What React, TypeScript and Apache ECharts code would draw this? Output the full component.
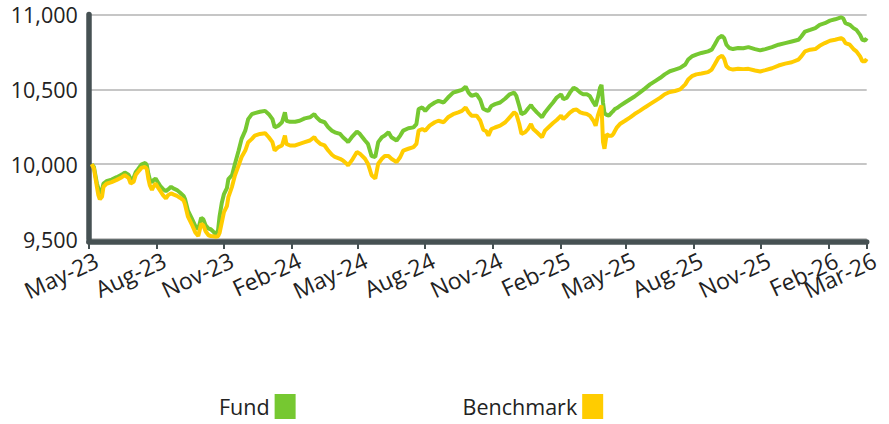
import React, { useEffect, useRef } from "react";
import * as echarts from "echarts";

// Days since 1 May 2023 for each observation
const days = [
  4, 7, 11, 13, 15, 18, 20, 24, 31, 38, 45, 49, 54, 57, 61, 64, 67, 72, 77, 79,
  81, 83, 86, 88, 91, 95, 98, 101, 105, 108, 112, 115, 120, 124, 129, 131, 135, 140, 145, 149,
  153, 156, 159, 163, 166, 169, 173, 176, 178, 181, 184, 188, 190, 195, 199, 204, 208, 213, 217, 222,
  226, 233, 240, 245, 250, 253, 258, 263, 267, 269, 274, 281, 287, 294, 301, 307, 310, 315, 321, 326,
  331, 335, 342, 346, 351, 353, 358, 365, 369, 376, 380, 385, 390, 394, 399, 403, 408, 412, 419, 424,
  428, 435, 442, 446, 449, 454, 458, 464, 471, 476, 483, 489, 496, 503, 508, 513, 517, 521, 528, 533,
  537, 541, 544, 548, 553, 560, 567, 573, 579, 582, 586, 589, 594, 598, 602, 605, 610, 617, 621, 628,
  632, 637, 643, 646, 651, 655, 660, 664, 669, 673, 678, 682, 687, 690, 693, 696, 698, 700, 702, 705,
  708, 712, 714, 716, 719, 723, 730, 737, 743, 750, 757, 764, 771, 778, 784, 791, 798, 805, 812, 816,
  821, 827, 834, 843, 848, 852, 857, 862, 865, 868, 872, 877, 884, 891, 898, 907, 914, 921, 930, 939,
  948, 957, 966, 970, 975, 982, 989, 995, 1002, 1009, 1016, 1024, 1027, 1030, 1036, 1041, 1045, 1050, 1053, 1057,
  1059,
];

const fund = [
  10000, 9981, 9871, 9838, 9805, 9827, 9871, 9886, 9897, 9913, 9930, 9944, 9930, 9899, 9909, 9948, 9966, 9999, 10008, 9992,
  9937, 9899, 9877, 9893, 9904, 9871, 9849, 9834, 9820, 9831, 9849, 9838, 9827, 9811, 9788, 9767, 9689, 9640, 9587, 9565,
  9642, 9631, 9591, 9569, 9565, 9552, 9530, 9560, 9650, 9740, 9800, 9840, 9900, 9926, 10003, 10091, 10169, 10224, 10301, 10334,
  10341, 10350, 10356, 10334, 10301, 10246, 10257, 10280, 10346, 10290, 10283, 10283, 10290, 10306, 10313, 10334, 10313, 10290, 10280, 10246,
  10224, 10213, 10202, 10180, 10158, 10147, 10180, 10217, 10202, 10158, 10136, 10054, 10048, 10147, 10180, 10191, 10213, 10180, 10158, 10191,
  10224, 10240, 10246, 10268, 10368, 10379, 10356, 10389, 10412, 10423, 10412, 10445, 10478, 10489, 10496, 10518, 10478, 10456, 10467, 10430,
  10370, 10360, 10356, 10389, 10401, 10412, 10439, 10467, 10478, 10456, 10389, 10334, 10346, 10372, 10394, 10372, 10346, 10313, 10346, 10389,
  10412, 10445, 10467, 10434, 10445, 10478, 10511, 10500, 10478, 10467, 10467, 10456, 10412, 10389, 10445, 10511, 10530, 10412, 10340, 10330,
  10324, 10346, 10355, 10368, 10375, 10389, 10412, 10434, 10452, 10478, 10505, 10533, 10555, 10577, 10600, 10621, 10632, 10643, 10666, 10699,
  10720, 10732, 10743, 10754, 10765, 10798, 10842, 10858, 10842, 10798, 10776, 10769, 10776, 10775, 10782, 10769, 10760, 10769, 10782, 10798,
  10809, 10820, 10831, 10853, 10886, 10897, 10909, 10931, 10942, 10959, 10968, 10981, 10975, 10942, 10931, 10909, 10897, 10864, 10831, 10826,
  10842,
];

const benchmark = [
  10000, 9970, 9849, 9793, 9765, 9783, 9849, 9869, 9880, 9895, 9913, 9926, 9909, 9871, 9882, 9930, 9948, 9977, 9981, 9966,
  9904, 9860, 9827, 9849, 9871, 9838, 9816, 9793, 9771, 9793, 9805, 9798, 9788, 9776, 9758, 9731, 9649, 9600, 9543, 9520,
  9602, 9591, 9552, 9525, 9520, 9518, 9515, 9518, 9540, 9610, 9680, 9720, 9780, 9850, 9926, 9992, 10048, 10091, 10147, 10169,
  10191, 10202, 10207, 10180, 10147, 10091, 10114, 10125, 10191, 10136, 10125, 10125, 10136, 10147, 10158, 10180, 10158, 10136, 10125, 10091,
  10063, 10048, 10036, 10025, 10003, 9992, 10025, 10081, 10070, 10036, 10003, 9926, 9904, 10003, 10036, 10054, 10054, 10036, 10014, 10048,
  10091, 10103, 10114, 10136, 10224, 10235, 10224, 10257, 10280, 10290, 10280, 10313, 10334, 10346, 10356, 10379, 10346, 10324, 10324, 10290,
  10230, 10220, 10191, 10235, 10245, 10257, 10280, 10313, 10346, 10335, 10268, 10202, 10213, 10235, 10268, 10235, 10213, 10180, 10224, 10257,
  10275, 10295, 10324, 10301, 10324, 10345, 10362, 10365, 10346, 10340, 10335, 10324, 10290, 10257, 10324, 10370, 10392, 10150, 10103, 10200,
  10190, 10190, 10202, 10220, 10246, 10268, 10290, 10313, 10335, 10356, 10379, 10401, 10423, 10445, 10467, 10482, 10489, 10500, 10533, 10566,
  10588, 10600, 10606, 10615, 10632, 10666, 10710, 10725, 10703, 10655, 10638, 10632, 10638, 10635, 10637, 10626, 10619, 10628, 10641, 10659,
  10672, 10681, 10699, 10720, 10754, 10765, 10769, 10791, 10809, 10825, 10831, 10842, 10835, 10809, 10798, 10769, 10754, 10720, 10688, 10688,
  10703,
];

// x-axis ticks (days since 1 May 2023) and their labels
const tickDays = [0, 92, 184, 276, 366, 458, 550, 642, 731, 823, 915, 1007, 1059];
const tickLabels = [
  "May-23", "Aug-23", "Nov-23", "Feb-24", "May-24", "Aug-24", "Nov-24",
  "Feb-25", "May-25", "Aug-25", "Nov-25", "Feb-26", "Mar-26",
];
const yTicks = [9500, 10000, 10500, 11000];

const seriesNames = ["Fund", "Benchmark"];
const GREEN = "#76C831";
const YELLOW = "#FFCC00";
const AXIS = "#465153";
const FONT = "Open Sans";

const G = { left: 88.8, right: 22.3, top: 14.5, bottom: 185 };
const LABEL_SHIFT = 3;

export default function App() {
  const ref = useRef<HTMLDivElement>(null);
  useEffect(() => {
    document.body.style.margin = "0";
    const chart = echarts.init(ref.current!, undefined, { renderer: "svg" });
    const dayMax = tickDays[tickDays.length - 1];
    const labelGrid = { left: G.left + LABEL_SHIFT, right: G.right - LABEL_SHIFT, top: G.top, bottom: G.bottom };
    const labelAxis = (gridIndex: number, values: number[]) => ({
      type: "value",
      gridIndex,
      min: 0,
      max: dayMax,
      offset: 3,
      axisLine: { show: false },
      axisTick: { show: false },
      splitLine: { show: false },
      axisLabel: {
        customValues: values,
        showMinLabel: true,
        showMaxLabel: true,
        rotate: 25,
        margin: 6,
        fontSize: 23,
        lineHeight: 23,
        align: "right",
        verticalAlign: "top",
        color: "#222",
        fontFamily: FONT,
        formatter: (v: number) => tickLabels[tickDays.indexOf(v)] ?? "",
      },
    });
    const hiddenY = (gridIndex: number) => ({
      type: "value",
      gridIndex,
      min: 0,
      max: 1,
      show: false,
    });
    chart.setOption({
      animation: false,
      textStyle: { fontFamily: FONT },
      grid: [G, labelGrid, labelGrid],
      legend: {
        data: seriesNames,
        left: 219,
        top: 394,
        padding: 0,
        align: "right",
        icon: "rect",
        itemWidth: 21,
        itemHeight: 25,
        itemGap: 167,
        textStyle: { fontSize: 21.5, color: "#222", fontFamily: FONT },
      },
      xAxis: [
        {
          type: "value",
          gridIndex: 0,
          min: 0,
          max: dayMax,
          offset: 3,
          axisLine: { show: true, lineStyle: { color: AXIS, width: 5.5 } },
          axisTick: {
            show: true,
            customValues: tickDays,
            length: 7,
            lineStyle: { color: AXIS, width: 2 },
          },
          axisLabel: { show: false },
          splitLine: { show: false },
        },
        labelAxis(1, tickDays.slice(0, tickDays.length - 1)),
        labelAxis(2, tickDays.slice(tickDays.length - 1)),
      ],
      yAxis: [
        {
          type: "value",
          gridIndex: 0,
          min: yTicks[0],
          max: yTicks[yTicks.length - 1],
          interval: 500,
          axisLine: { show: true, lineStyle: { color: AXIS, width: 5.5 } },
          axisTick: { show: false },
          axisLabel: {
            margin: 11,
            fontSize: 21.5,
            color: "#222",
            fontFamily: FONT,
            formatter: (v: number) => v.toLocaleString("en-US"),
          },
          splitLine: { show: true, lineStyle: { color: "#c6c6c6", width: 2 } },
        },
        hiddenY(1),
        hiddenY(2),
      ],
      series: [
        {
          name: seriesNames[0],
          type: "line",
          xAxisIndex: 0,
          yAxisIndex: 0,
          data: days.map((d, i) => [d, fund[i]]),
          showSymbol: false,
          color: GREEN,
          lineStyle: { width: 4, color: GREEN },
          z: 2,
        },
        {
          name: seriesNames[1],
          type: "line",
          xAxisIndex: 0,
          yAxisIndex: 0,
          data: days.map((d, i) => [d, benchmark[i]]),
          showSymbol: false,
          color: YELLOW,
          lineStyle: { width: 4, color: YELLOW },
          z: 3,
        },
      ],
    });
    return () => chart.dispose();
  }, []);
  return <div ref={ref} style={{ position: "absolute", left: 0, top: 0, width: 889, height: 424 }} />;
}
